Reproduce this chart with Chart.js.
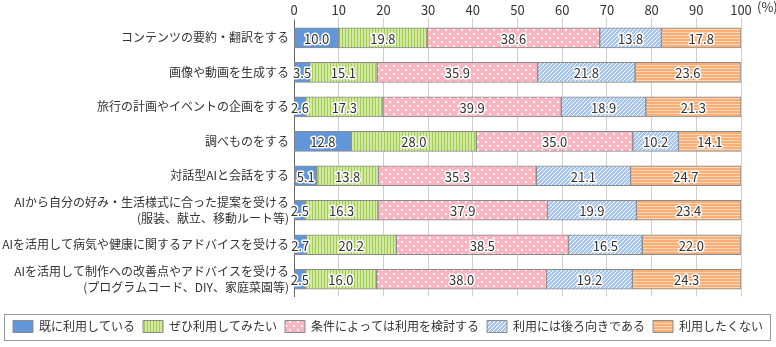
<!DOCTYPE html>
<html>
<head>
<meta charset="utf-8">
<script src="https://cdn.jsdelivr.net/npm/chart.js@4/dist/chart.umd.min.js"></script>
<style>
  html, body { margin: 0; padding: 0; background: #fff; }
  #wrap { width: 776px; height: 347px; }
</style>
</head>
<body>
<div id="wrap"><canvas id="aiChart" width="776" height="347"></canvas></div>
<script>
// 質問項目
const categories = [
    "コンテンツの要約・翻訳をする",
    "画像や動画を生成する",
    "旅行の計画やイベントの企画をする",
    "調べものをする",
    "対話型AIと会話をする",
    ["AIから自分の好み・生活様式に合った提案を受ける", "(服装、献立、移動ルート等)"],
    "AIを活用して病気や健康に関するアドバイスを受ける",
    ["AIを活用して制作への改善点やアドバイスを受ける", "(プログラムコード、DIY、家庭菜園等)"]
];

const seriesNames = ["既に利用している", "ぜひ利用してみたい", "条件によっては利用を検討する", "利用には後ろ向きである", "利用したくない"];

const alreadyUse   = [10.0, 3.5, 2.6, 12.8, 5.1, 2.5, 2.7, 2.5];
const wantToUse    = [19.8, 15.1, 17.3, 28.0, 13.8, 16.3, 20.2, 16.0];
const conditional  = [38.6, 35.9, 39.9, 35.0, 35.3, 37.9, 38.5, 38.0];
const reluctant    = [13.8, 21.8, 18.9, 10.2, 21.1, 19.9, 16.5, 19.2];
const dontWant     = [17.8, 23.6, 21.3, 14.1, 24.7, 23.4, 22.0, 24.3];

const xTicks = [0, 10, 20, 30, 40, 50, 60, 70, 80, 90, 100];

const FONT = "'Noto Sans CJK JP', 'Noto Sans', sans-serif";
const ctx = document.getElementById("aiChart").getContext("2d");

// 模様を作る
function makePattern(w, h, draw) {
    const c = document.createElement("canvas");
    c.width = w; c.height = h;
    const g = c.getContext("2d");
    draw(g);
    return ctx.createPattern(c, "repeat");
}

const greenStripe = makePattern(3, 1, g => {
    g.fillStyle = "#d2e9a0"; g.fillRect(0, 0, 3, 1);
    g.fillStyle = "#a2cb55"; g.fillRect(0, 0, 1, 1);
});
const pinkDots = makePattern(8, 8, g => {
    g.fillStyle = "#fbb5c0"; g.fillRect(0, 0, 8, 8);
    g.fillStyle = "#ffffff";
    g.fillRect(1, 1, 2, 2);
    g.fillRect(5, 5, 2, 2);
});
const blueDiag = makePattern(4, 4, g => {
    g.fillStyle = "#a6c5ef"; g.fillRect(0, 0, 4, 4);
    g.fillStyle = "#ffffff";
    for (let i = 0; i < 4; i++) g.fillRect(i, 3 - i, 1, 1);
});
const orangeStripe = makePattern(1, 3, g => {
    g.fillStyle = "#f8ae74"; g.fillRect(0, 0, 1, 3);
    g.fillStyle = "#fcd6b6"; g.fillRect(0, 2, 1, 1);
});

const fills = ["#6196d8", greenStripe, pinkDots, blueDiag, orangeStripe];
const seriesData = [alreadyUse, wantToUse, conditional, reluctant, dontWant];

// 数値ラベル (白フチ付き)
const valueLabels = {
    id: "valueLabels",
    afterDatasetsDraw(chart) {
        const c = chart.ctx;
        c.save();
        c.font = "13px " + FONT;
        c.textAlign = "center";
        c.textBaseline = "middle";
        c.lineJoin = "round";
        chart.data.datasets.forEach((ds, i) => {
            const meta = chart.getDatasetMeta(i);
            meta.data.forEach((bar, j) => {
                const txt = ds.data[j].toFixed(1);
                const x = (bar.x + bar.base) / 2;
                const y = bar.y + 1;
                c.strokeStyle = "#fff";
                c.lineWidth = 3;
                c.strokeText(txt, x, y);
                c.fillStyle = "#333";
                c.fillText(txt, x, y);
            });
        });
        c.restore();
    }
};

// (%) と凡例の枠
const extras = {
    id: "extras",
    afterDraw(chart) {
        const c = chart.ctx;
        const area = chart.chartArea;
        c.save();
        c.font = "13px " + FONT;
        c.fillStyle = "#333";
        c.textAlign = "left";
        c.textBaseline = "middle";
        c.fillText("(%)", area.right + 16, 7);
        const hb = chart.legend.legendHitBoxes;
        if (hb && hb.length) {
            const cy = hb[0].top + hb[0].height / 2;
            c.strokeStyle = "#999";
            c.lineWidth = 1;
            c.strokeRect(4.5, Math.round(cy - 13) + 0.5, chart.width - 10, 26);
        }
        c.restore();
    }
};

new Chart(ctx, {
    type: "bar",
    data: {
        labels: categories,
        datasets: seriesNames.map((name, i) => ({
            label: name,
            data: seriesData[i],
            backgroundColor: fills[i],
            borderColor: "#8a8a8a",
            borderWidth: 1,
            borderSkipped: false,
            barThickness: 20
        }))
    },
    options: {
        indexAxis: "y",
        responsive: false,
        animation: false,
        layout: { padding: { left: 0, right: 0, top: 0, bottom: 4.5 } },
        scales: {
            x: {
                position: "top",
                stacked: true,
                min: 0,
                max: 100,
                afterBuildTicks: s => { s.ticks = xTicks.map(v => ({ value: v })); },
                afterFit: s => { s.height = 16.5; },
                ticks: { color: "#333", font: { size: 13, family: FONT }, padding: 0, maxRotation: 0 },
                grid: { color: "#cfcfcf", tickLength: 3 },
                border: { display: false }
            },
            y: {
                stacked: true,
                afterFit: s => { s.width = 294; },
                ticks: { color: "#333", font: { size: 12, family: FONT, lineHeight: 1.3 }, padding: 5 },
                grid: { display: false, drawTicks: false },
                border: { display: true, color: "#666", width: 1 }
            },
            // 右側の余白用
            yRight: {
                type: "category",
                position: "right",
                afterFit: s => { s.width = 35; },
                ticks: { display: false },
                grid: { display: false, drawTicks: false },
                border: { display: false }
            }
        },
        plugins: {
            legend: {
                position: "bottom",
                title: { display: true, text: "", font: { size: 10, lineHeight: 1 }, padding: { top: 6, bottom: 0 } },
                labels: {
                    boxWidth: 20,
                    boxHeight: 12,
                    padding: 8,
                    color: "#333",
                    font: { size: 12, family: FONT }
                }
            },
            tooltip: { enabled: false }
        }
    },
    plugins: [valueLabels, extras]
});
</script>
</body>
</html>
